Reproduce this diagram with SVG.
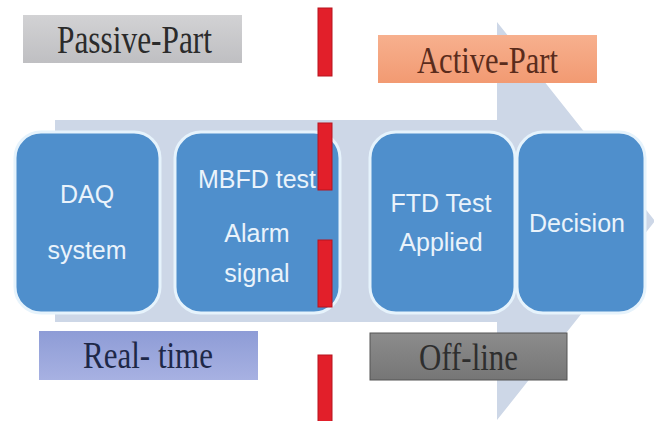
<svg xmlns="http://www.w3.org/2000/svg" width="654" height="421" viewBox="0 0 654 421">
  <defs>
    <linearGradient id="gPassive" x1="0" y1="0" x2="0" y2="1">
      <stop offset="0" stop-color="#d2d2d4"/>
      <stop offset="1" stop-color="#bfbfc2"/>
    </linearGradient>
    <linearGradient id="gActive" x1="0" y1="0" x2="0" y2="1">
      <stop offset="0" stop-color="#f7b08e"/>
      <stop offset="1" stop-color="#f29a72"/>
    </linearGradient>
    <linearGradient id="gReal" x1="0" y1="0" x2="0" y2="1">
      <stop offset="0" stop-color="#8e9cd6"/>
      <stop offset="1" stop-color="#a7b1e2"/>
    </linearGradient>
    <linearGradient id="gOff" x1="0" y1="0" x2="0" y2="1">
      <stop offset="0" stop-color="#8c8c8c"/>
      <stop offset="1" stop-color="#767676"/>
    </linearGradient>
    <style>
      .node rect { fill: #4f8fcc; stroke: #e6f3fc; stroke-width: 3; }
      .ntxt { font-family: "Liberation Sans", Arial, sans-serif; font-size: 25px; fill: #eaf3fb; text-anchor: middle; }
      .ltxt { font-family: "Liberation Serif", "Times New Roman", serif; }
      .bar { fill: #e21f2a; stroke: #b8141e; stroke-width: 1; }
    </style>
  </defs>
  <rect width="654" height="421" fill="#ffffff"/>

  <g id="connectors">
    <polygon id="process-arrow" points="55,120 497,120 497,22 655,221 497,420 497,322 55,322" fill="#cdd7e7"/>
  </g>

  <g id="node-daq" class="node">
    <rect x="15" y="132" width="145" height="181" rx="26" ry="26"/>
    <text class="ntxt" x="87" y="203">DAQ</text>
    <text class="ntxt" x="87" y="259">system</text>
  </g>
  <g id="node-mbfd" class="node">
    <rect x="175" y="132" width="165" height="181" rx="26" ry="26"/>
    <text class="ntxt" x="257" y="188">MBFD test</text>
    <text class="ntxt" x="257" y="242">Alarm</text>
    <text class="ntxt" x="257" y="282">signal</text>
  </g>
  <g id="node-ftd" class="node">
    <rect x="370" y="132" width="145" height="181" rx="26" ry="26"/>
    <text class="ntxt" x="441" y="212">FTD Test</text>
    <text class="ntxt" x="441" y="251">Applied</text>
  </g>
  <g id="node-decision" class="node">
    <rect x="517" y="132" width="128" height="181" rx="26" ry="26"/>
    <text class="ntxt" x="577" y="232">Decision</text>
  </g>

  <g id="label-passive">
    <rect x="23" y="15" width="219" height="48" fill="url(#gPassive)"/>
    <text class="ltxt" x="57" y="53" font-size="40" fill="#2b2b2b" textLength="155" lengthAdjust="spacingAndGlyphs">Passive-Part</text>
  </g>
  <g id="label-active">
    <rect x="378" y="35" width="219" height="48" fill="url(#gActive)"/>
    <text class="ltxt" x="417" y="73" font-size="38" fill="#5a2c1c" textLength="141" lengthAdjust="spacingAndGlyphs">Active-Part</text>
  </g>
  <g id="label-realtime">
    <rect x="39" y="331" width="219" height="49" fill="url(#gReal)"/>
    <text class="ltxt" x="83" y="368" font-size="37" fill="#1e2848" textLength="130" lengthAdjust="spacingAndGlyphs">Real- time</text>
  </g>
  <g id="label-offline">
    <rect x="370" y="333" width="197" height="47" fill="url(#gOff)" stroke="#555555" stroke-width="1"/>
    <text class="ltxt" x="419" y="370" font-size="37" fill="#2e2e2e" textLength="99" lengthAdjust="spacingAndGlyphs">Off-line</text>
  </g>

  <g id="divider">
    <rect class="bar" x="318" y="8" width="14" height="68"/>
    <rect class="bar" x="318" y="123" width="14" height="67"/>
    <rect class="bar" x="318" y="240" width="14" height="67"/>
    <rect class="bar" x="318" y="355" width="14" height="70"/>
  </g>
</svg>
